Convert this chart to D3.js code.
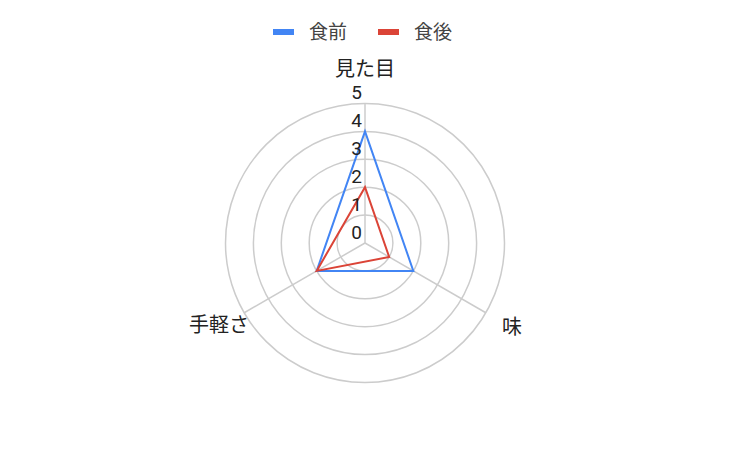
<!DOCTYPE html>
<html>
<head>
<meta charset="utf-8">
<script src="https://cdn.jsdelivr.net/npm/d3@7"></script>
<style>
  body { margin: 0; background: #fff; }
  text { font-family: "Noto Sans CJK JP", Roboto, sans-serif; fill: #222; }
  text.tick { font-family: Roboto, "Noto Sans CJK JP", sans-serif; }
</style>
</head>
<body>
<svg id="chart" width="729" height="451"></svg>
<script>
var axes = ['見た目', '味', '手軽さ'];
var seriesNames = ['食前', '食後'];
var before = [4, 2, 2];
var after = [2, 1, 2];
var ticks = [0, 1, 2, 3, 4, 5];
var colors = ['#4285f4', '#db4437'];

var svg = d3.select('#chart');
var cx = 365, cy = 243, R = 139.5;

var r = d3.scaleLinear().domain([0, 5]).range([0, R]);
var angle = d3.scaleLinear().domain([0, axes.length]).range([0, 2 * Math.PI]);

function pt(i, v) {
  var a = angle(i) - Math.PI / 2;
  return [cx + r(v) * Math.cos(a), cy + r(v) * Math.sin(a)];
}

var g = svg.append('g');

// rings
g.selectAll('circle.ring')
  .data(ticks.filter(function(d){ return d > 0; }))
  .enter().append('circle')
  .attr('cx', cx).attr('cy', cy)
  .attr('r', function(d){ return r(d); })
  .attr('fill', 'none')
  .attr('stroke', '#cccccc')
  .attr('stroke-width', 1.5);

// spokes
g.selectAll('line.spoke')
  .data(axes).enter().append('line')
  .attr('x1', cx).attr('y1', cy)
  .attr('x2', function(d, i){ return pt(i, 5)[0]; })
  .attr('y2', function(d, i){ return pt(i, 5)[1]; })
  .attr('stroke', '#cccccc')
  .attr('stroke-width', 1.5);

// series
var line = d3.line().curve(d3.curveLinearClosed);
[before, after].forEach(function(vals, s) {
  g.append('path')
    .attr('d', line(vals.map(function(v, i){ return pt(i, v); })))
    .attr('fill', 'none')
    .attr('stroke', colors[s])
    .attr('stroke-width', 2);
});

// tick labels
g.selectAll('text.tick')
  .data(ticks).enter().append('text')
  .attr('class', 'tick')
  .attr('x', cx - 3)
  .attr('y', function(d){ return cy - r(d) - 11; })
  .attr('dy', '0.35em')
  .attr('text-anchor', 'end')
  .style('font-size', '19px')
  .text(function(d){ return d; });

// axis labels
var labelPos = [
  { x: cx, y: 69, anchor: 'middle' },
  { x: 502, y: 327, anchor: 'start' },
  { x: 249, y: 325, anchor: 'end' }
];
g.selectAll('text.axis')
  .data(axes).enter().append('text')
  .attr('x', function(d, i){ return labelPos[i].x; })
  .attr('y', function(d, i){ return labelPos[i].y; })
  .attr('dy', '0.35em')
  .attr('text-anchor', function(d, i){ return labelPos[i].anchor; })
  .style('font-size', '20px')
  .text(function(d){ return d; });

// legend
var legendX = [273, 378];
var legend = svg.selectAll('g.legend')
  .data(seriesNames).enter().append('g')
  .attr('transform', function(d, i){ return 'translate(' + legendX[i] + ',32)'; });
legend.append('rect')
  .attr('x', 0).attr('y', -3)
  .attr('width', 21).attr('height', 6)
  .attr('fill', function(d, i){ return colors[i]; });
legend.append('text')
  .attr('x', 36).attr('y', 0)
  .attr('dy', '0.35em')
  .style('font-size', '19px')
  .style('fill', '#444')
  .text(function(d){ return d; });
</script>
</body>
</html>
